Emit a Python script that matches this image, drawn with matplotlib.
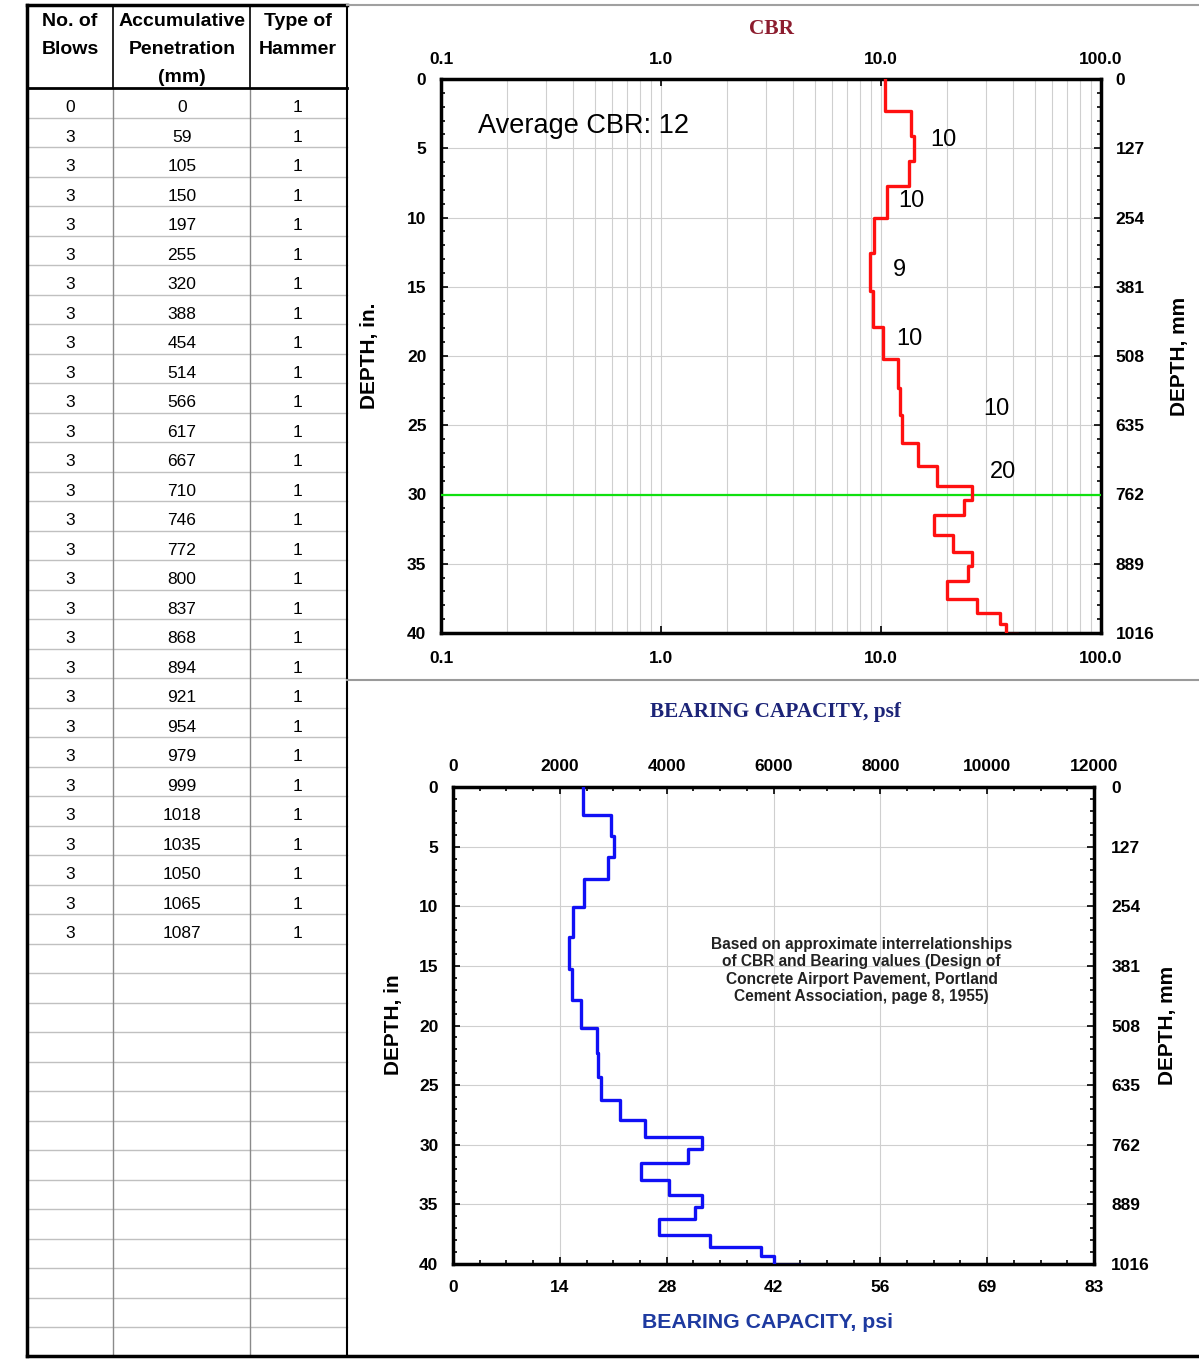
import matplotlib
matplotlib.use('Agg')
import matplotlib.pyplot as plt
import numpy as np
from matplotlib.ticker import MultipleLocator, LogLocator, NullFormatter

plt.rcParams['font.family'] = ['Liberation Sans', 'DejaVu Sans']
plt.rcParams['font.weight'] = 'bold'

# ---- data -------------------------------------------------------------
blows = [0] + [3] * 28
penetration_mm = [0, 59, 105, 150, 197, 255, 320, 388, 454, 514, 566, 617, 667,
                  710, 746, 772, 800, 837, 868, 894, 921, 954, 979, 999, 1018,
                  1035, 1050, 1065, 1087]
hammer = [1] * 29

# CBR of each layer between two readings
cbr = [10.4, 13.7, 14.1, 13.4, 10.6, 9.3, 8.9, 9.2, 10.2, 12.0, 12.2, 12.5,
       14.8, 18.0, 26.0, 23.9, 17.5, 21.3, 26.0, 24.9, 19.9, 27.2, 34.9, 37.0,
       41.8]
# bearing capacity of each layer, psf
bearing_psf = [2430, 2960, 3020, 2910, 2460, 2240, 2180, 2230, 2400, 2690, 2720,
               2770, 3130, 3590, 4670, 4400, 3520, 4050, 4670, 4530, 3860, 4820,
               5760, 6010, 6550]

layer_labels = ['10', '10', '9', '10', '10', '20']
layer_label_x = [19.3, 13.8, 12.1, 13.4, 33.3, 35.9]
layer_label_y = [4.4, 8.8, 13.8, 18.8, 23.8, 28.4]

cbr_ticks = [0.1, 1, 10, 100]
cbr_ticklabels = ['0.1', '1.0', '10.0', '100.0']
depth_in_ticks = [0, 5, 10, 15, 20, 25, 30, 35, 40]
depth_mm_ticks = [0, 127, 254, 381, 508, 635, 762, 889, 1016]
psf_ticks = [0, 2000, 4000, 6000, 8000, 10000, 12000]
psi_labels = ['0', '14', '28', '42', '56', '69', '83']

TICK_FS = 12.5
NAME_FS = 15

# ---- figure -----------------------------------------------------------
W, H = 1199, 1363
fig = plt.figure(figsize=(W / 100, H / 100), dpi=100)

# background layer in pixel coordinates for the table and frames
bg = fig.add_axes([0, 0, 1, 1])
bg.set_xlim(0, W)
bg.set_ylim(H, 0)
bg.axis('off')

row_h = 29.5
top_y, head_y, bot_y = 5, 88, 1356
x_left, x_c1, x_c2, x_right = 27, 113, 250, 347

for k in range(1, 43):
    y = head_y + k * row_h
    bg.plot([x_left, x_right], [y, y], color='#c0c0c0', lw=1)
bg.plot([x_c1, x_c1], [top_y, head_y], color='black', lw=1.2)
bg.plot([x_c2, x_c2], [top_y, head_y], color='black', lw=1.2)
bg.plot([x_c1, x_c1], [head_y, bot_y], color='#8a8a8a', lw=1)
bg.plot([x_c2, x_c2], [head_y, bot_y], color='#8a8a8a', lw=1)
bg.plot([x_left, x_right], [head_y, head_y], color='black', lw=2)
bg.plot([x_left, x_left], [top_y, bot_y], color='black', lw=2.5)
bg.plot([x_right, x_right], [top_y, bot_y], color='black', lw=1.5)
bg.plot([x_left, x_right], [top_y, top_y], color='black', lw=2.5)
bg.plot([x_right, W], [top_y, top_y], color='#a0a0a0', lw=1.5)
bg.plot([x_left, W], [bot_y, bot_y], color='black', lw=2.5)
bg.plot([x_right, W], [680, 680], color='#9a9a9a', lw=1.5)

hdr = dict(ha='center', va='center', fontsize=14, fontweight='bold')
bg.text(70, 22, 'No. of', **hdr)
bg.text(70, 49, 'Blows', **hdr)
bg.text(182, 22, 'Accumulative', **hdr)
bg.text(182, 49, 'Penetration', **hdr)
bg.text(182, 77, '(mm)', **hdr)
bg.text(298, 22, 'Type of', **hdr)
bg.text(298, 49, 'Hammer', **hdr)

cell = dict(ha='center', va='center', fontsize=12.5, fontweight='normal')
for i in range(len(blows)):
    y = head_y + (i + 0.5) * row_h + 5
    bg.text(70, y, str(blows[i]), **cell)
    bg.text(182, y, str(penetration_mm[i]), **cell)
    bg.text(298, y, str(hammer[i]), **cell)

# ---- CBR plot ---------------------------------------------------------
edges_in = np.array(penetration_mm[:len(cbr) + 1]) / 25.4
step_y = np.column_stack([edges_in[:-1], edges_in[1:]]).ravel()

ax1 = fig.add_axes([441 / W, 1 - 633 / H, 660 / W, 554 / H])
ax1.set_xscale('log')
ax1.set_xlim(0.1, 100)
ax1.set_ylim(40, 0)
ax1.plot(np.repeat(cbr, 2), step_y, color='#ff1010', lw=2.4, zorder=4)
ax1.axhline(30, color='#10e010', lw=1.6, zorder=3)

ax1.set_xticks(cbr_ticks, labels=cbr_ticklabels)
ax1.xaxis.set_minor_locator(LogLocator(base=10, subs=np.arange(2, 10)))
ax1.xaxis.set_minor_formatter(NullFormatter())
ax1.set_yticks(depth_in_ticks)
ax1.yaxis.set_minor_locator(MultipleLocator(1))
ax1.grid(True, axis='x', which='both', color='#cfcfcf', lw=0.8)
ax1.grid(True, axis='y', which='major', color='#cfcfcf', lw=0.8)
ax1.tick_params(which='both', direction='in', top=True, right=True,
                labeltop=True, labelbottom=False, labelsize=TICK_FS)
ax1.tick_params(axis='x', which='major', pad=8.5)
ax1.tick_params(axis='y', which='major', pad=10.5)
ax1.tick_params(axis='x', which='minor', length=0)
ax1.tick_params(axis='y', which='minor', length=3, width=1.2)
ax1.tick_params(which='major', length=5, width=1.2)
for s in ax1.spines.values():
    s.set_linewidth(2.5)

sec1x = ax1.secondary_xaxis('bottom')
sec1x.set_xticks(cbr_ticks, labels=cbr_ticklabels)
sec1x.xaxis.set_minor_formatter(NullFormatter())
sec1x.tick_params(which='both', length=0, labelsize=TICK_FS, pad=13)
sec1x.spines['bottom'].set_visible(False)

sec1 = ax1.secondary_yaxis('right', functions=(lambda d: d * 25.4, lambda d: d / 25.4))
sec1.set_yticks(depth_mm_ticks)
sec1.tick_params(which='both', length=0, labelsize=TICK_FS, pad=10.5)
sec1.spines['right'].set_visible(False)

ax1.text(0.148, 3.4, 'Average CBR: 12', fontsize=19.5, fontweight='normal',
         ha='left', va='center')
for lab, lx, ly in zip(layer_labels, layer_label_x, layer_label_y):
    ax1.text(lx, ly, lab, fontsize=17, fontweight='normal', ha='center', va='center')

# ---- bearing capacity plot -------------------------------------------
ax2 = fig.add_axes([453 / W, 1 - 1264 / H, 641 / W, 477 / H])
ax2.set_xlim(0, 12000)
ax2.set_ylim(40, 0)
ax2.plot(np.repeat(bearing_psf, 2), step_y, color='#1010f5', lw=2.4, zorder=4)
ax2.set_xticks(psf_ticks)
ax2.xaxis.set_minor_locator(MultipleLocator(500))
ax2.set_yticks(depth_in_ticks)
ax2.yaxis.set_minor_locator(MultipleLocator(1))
ax2.grid(True, which='major', color='#cfcfcf', lw=0.8)
ax2.tick_params(which='both', direction='in', top=True, right=True,
                labeltop=True, labelbottom=False, labelsize=TICK_FS)
ax2.tick_params(axis='x', which='major', pad=9)
ax2.tick_params(axis='y', which='major', pad=10.5)
ax2.tick_params(which='minor', length=3, width=1.2)
ax2.tick_params(which='major', length=5, width=1.2)
for s in ax2.spines.values():
    s.set_linewidth(2.5)

sec2x = ax2.secondary_xaxis('bottom')
sec2x.set_xticks(psf_ticks, labels=psi_labels)
sec2x.tick_params(which='both', length=0, labelsize=TICK_FS, pad=11.5)
sec2x.spines['bottom'].set_visible(False)

sec2y = ax2.secondary_yaxis('right', functions=(lambda d: d * 25.4, lambda d: d / 25.4))
sec2y.set_yticks(depth_mm_ticks)
sec2y.tick_params(which='both', length=0, labelsize=TICK_FS, pad=12.5)
sec2y.spines['right'].set_visible(False)

ax2.text(7650, 15.4, 'Based on approximate interrelationships\n'
         'of CBR and Bearing values (Design of\n'
         'Concrete Airport Pavement, Portland\n'
         'Cement Association, page 8, 1955)',
         fontsize=11.2, ha='center', va='center', linespacing=1.2, color='#222222')

# ---- titles and axis names -------------------------------------------
serif = ['Liberation Serif', 'DejaVu Serif']
bg.text(771, 29, 'CBR', family=serif, fontsize=15.4, fontweight='bold',
        color='#8c1c2e', ha='center', va='center')
bg.text(775, 712, 'BEARING CAPACITY, psf', family=serif, fontsize=15.3,
        fontweight='bold', color='#1c2478', ha='center', va='center')
bg.text(768, 1323, 'BEARING CAPACITY, psi', fontsize=15.3, fontweight='bold',
        color='#1e3aa0', ha='center', va='center')
bg.text(370, 356, 'DEPTH, in.', rotation=90, fontsize=NAME_FS, ha='center', va='center')
bg.text(1180, 356, 'DEPTH, mm', rotation=90, fontsize=NAME_FS, ha='center', va='center')
bg.text(393, 1025, 'DEPTH, in', rotation=90, fontsize=NAME_FS, ha='center', va='center')
bg.text(1168, 1025, 'DEPTH, mm', rotation=90, fontsize=NAME_FS, ha='center', va='center')

fig.savefig('out.png', dpi=100, facecolor='white')
